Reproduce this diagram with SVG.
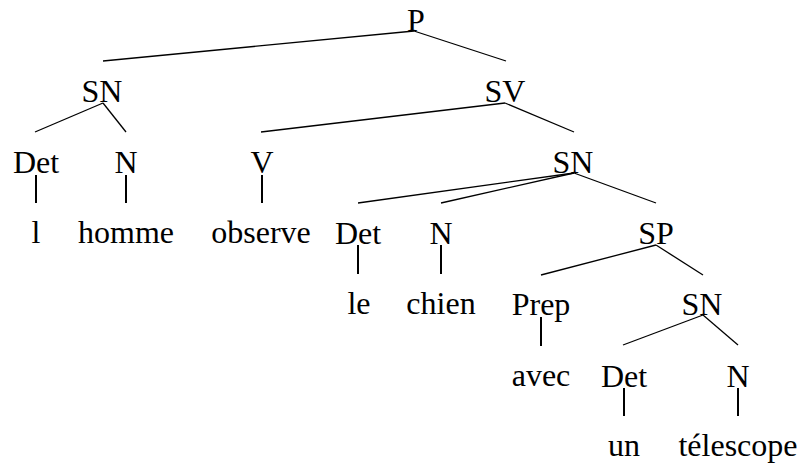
<svg xmlns="http://www.w3.org/2000/svg" width="799" height="464" viewBox="0 0 799 464">
<style>
text{font-family:"Liberation Serif","DejaVu Serif",serif;font-size:32px;fill:#000;text-anchor:middle}
.d{stroke:#000;stroke-width:1.3;fill:none}
.v{stroke:#000;stroke-width:2;fill:none}
</style>
<rect width="799" height="464" fill="#fff"/>
<g id="connectors">
<line class="d" x1="414" y1="31" x2="103" y2="61"/>
<line class="d" x1="414" y1="31" x2="506" y2="61"/>
<line class="d" x1="103" y1="103" x2="35" y2="132"/>
<line class="d" x1="103" y1="103" x2="126" y2="132"/>
<line class="d" x1="505" y1="103" x2="261" y2="132"/>
<line class="d" x1="505" y1="103" x2="574" y2="132"/>
<line class="v" x1="36" y1="175" x2="36" y2="203"/>
<line class="v" x1="126" y1="175" x2="126" y2="203"/>
<line class="v" x1="262" y1="175" x2="262" y2="203"/>
<line class="d" x1="574" y1="173" x2="358" y2="203"/>
<line class="d" x1="574" y1="173" x2="441" y2="203"/>
<line class="d" x1="574" y1="173" x2="656" y2="203"/>
<line class="v" x1="358" y1="245" x2="358" y2="274"/>
<line class="v" x1="441" y1="245" x2="441" y2="274"/>
<line class="d" x1="656" y1="245" x2="541" y2="275"/>
<line class="d" x1="656" y1="245" x2="703" y2="275"/>
<line class="v" x1="541" y1="317" x2="541" y2="346"/>
<line class="d" x1="703" y1="315" x2="623" y2="345"/>
<line class="d" x1="703" y1="315" x2="738" y2="345"/>
<line class="v" x1="624" y1="388" x2="624" y2="416"/>
<line class="v" x1="738" y1="388" x2="738" y2="416"/>
</g>
<g id="n-P"><text x="416" y="31">P</text></g>
<g id="n-SN1"><text x="102" y="102">SN</text></g>
<g id="n-SV"><text x="505" y="102">SV</text></g>
<g id="n-Det1"><text x="36" y="173">Det</text></g>
<g id="n-N1"><text x="126" y="173">N</text></g>
<g id="n-V"><text x="262" y="173">V</text></g>
<g id="n-SN2"><text x="573" y="173">SN</text></g>
<g id="n-l"><text x="36" y="243">l</text></g>
<g id="n-homme"><text x="126" y="243">homme</text></g>
<g id="n-observe"><text x="261" y="243">observe</text></g>
<g id="n-Det2"><text x="358" y="244">Det</text></g>
<g id="n-N2"><text x="441" y="244">N</text></g>
<g id="n-SP"><text x="656" y="244">SP</text></g>
<g id="n-le"><text x="359" y="314">le</text></g>
<g id="n-chien"><text x="441" y="314">chien</text></g>
<g id="n-Prep"><text x="541" y="315">Prep</text></g>
<g id="n-SN3"><text x="702" y="315">SN</text></g>
<g id="n-avec"><text x="541" y="386">avec</text></g>
<g id="n-Det3"><text x="624" y="387">Det</text></g>
<g id="n-N3"><text x="738" y="387">N</text></g>
<g id="n-un"><text x="624" y="456">un</text></g>
<g id="n-telescope"><text x="738" y="456">télescope</text></g>
</svg>
